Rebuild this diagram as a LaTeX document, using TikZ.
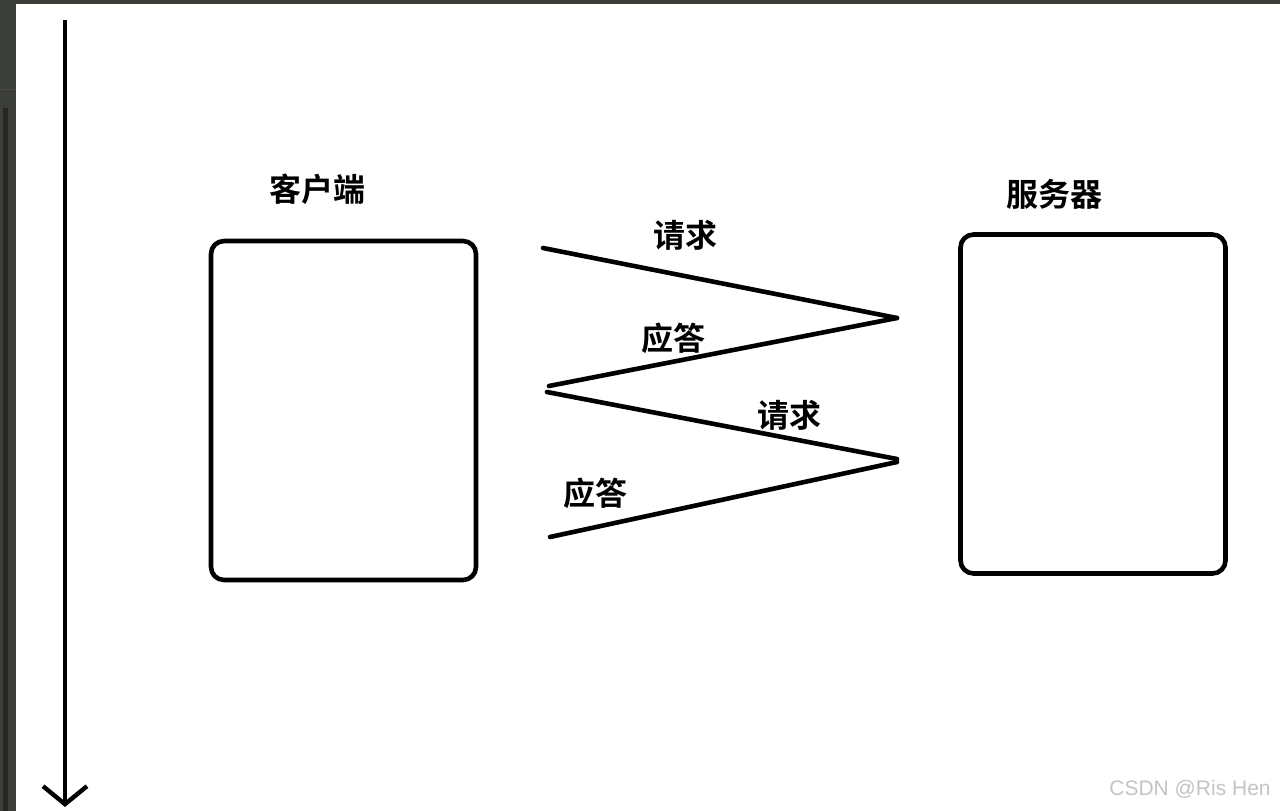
\documentclass[tikz,border=0pt]{standalone}
\usepackage{fontspec}
\setmainfont{Liberation Sans}
\newfontfamily\cjk{Noto Sans CJK SC Bold}
\usetikzlibrary{arrows.meta}
\definecolor{frame}{HTML}{3C3E3A}
\definecolor{wm}{HTML}{C4C4C4}
\begin{document}
\begin{tikzpicture}[x=1pt,y=-1pt,
  box/.style={draw=black,line width=4.6pt,rounded corners=13pt,minimum width=265pt,minimum height=339pt,inner sep=0pt,outer sep=0pt},
  lbl/.style={font=\cjk\fontsize{32}{32}\selectfont,inner sep=0pt},
  zz/.style={line width=4.6pt,line cap=round}]
\useasboundingbox (0,0) rectangle (1280,811);
\fill[frame] (0,0) rectangle (1280,811);
\fill[white] (16,4) rectangle (1280,811);
\fill[black!85] (3,108) rectangle (8,811);
\draw[black!70,line width=1pt] (0,89) -- (16,89);
% time axis
\coordinate (t0) at (65,20);
\coordinate (t1) at (65,807);
\draw[line width=4.4pt,-{Straight Barb[length=18pt,width=44pt,line width=4.4pt]}] (t0) -- (t1);
% boxes
\node[box] (client) at (343.5,410.5) {};
\node[box] (server) at (1093,404) {};
\node[lbl] (clientlbl) at (317,189) {客户端};
\node[lbl] (serverlbl) at (1054,194) {服务器};
% zigzag
\coordinate (p1) at (543,248);
\coordinate (p2) at (897,318);
\coordinate (p3) at (549,386);
\coordinate (p4) at (547,392);
\coordinate (p5) at (897,459);
\coordinate (p6) at (897,462);
\coordinate (p7) at (550,537);
\draw[zz] (p1) -- (p2);
\draw[zz] (p2) -- (p3);
\draw[zz] (p4) -- (p5);
\draw[zz] (p6) -- (p7);
\node[lbl] (req1) at (685,235) {请求};
\node[lbl] (res1) at (673,338) {应答};
\node[lbl] (req2) at (789,415) {请求};
\node[lbl] (res2) at (595,493) {应答};
\node[text=wm,font=\fontsize{21}{21}\selectfont,inner sep=0pt] (wmark) at (1190,789) {CSDN @Ris Hen};
\end{tikzpicture}
\end{document}
